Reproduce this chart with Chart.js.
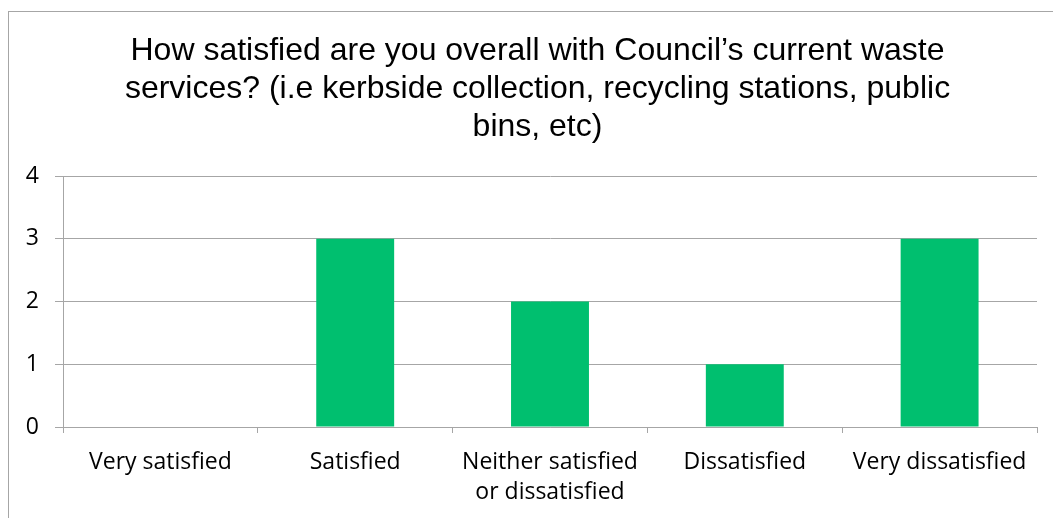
<!DOCTYPE html>
<html>
<head>
<meta charset="utf-8">
<script src="https://cdn.jsdelivr.net/npm/chart.js@4/dist/chart.umd.min.js"></script>
<style>
  html, body { margin: 0; padding: 0; background: #fff; overflow: hidden; }
  #frame {
    position: absolute; left: 8px; top: 11px; width: 2000px; height: 2000px;
    border-left: 1px solid #a6a6a6; border-top: 1px solid #a6a6a6;
  }
  #wrap { position: absolute; left: 0; top: 0; width: 1053px; height: 518px; }
</style>
</head>
<body>
<div id="frame"></div>
<div id="wrap"><canvas id="chart" width="1053" height="518"></canvas></div>
<script>
// Survey question and answers
const titleLines = [
  'How satisfied are you overall with Council\u2019s current waste',
  'services? (i.e kerbside collection, recycling stations, public',
  'bins, etc)'
];
const categories = [
  'Very satisfied',
  'Satisfied',
  ['Neither satisfied', 'or dissatisfied'],
  'Dissatisfied',
  'Very dissatisfied'
];
const responses = [0, 3, 2, 1, 3];
const yMin = 0;
const yMax = 4;
const yStep = 1;

const gridGray = '#a6a6a6';
const labelFont = { family: '"Open Sans", sans-serif', size: 23, lineHeight: 30 / 23 };

// The frame the chart sits in is wider than the window, so the title is
// centred on that frame rather than on the visible canvas.
const titleShift = {
  id: 'titleShift',
  afterLayout(chart) {
    const t = chart.titleBlock;
    if (t) { t.left += 9; t.right += 9; }
  }
};

new Chart(document.getElementById('chart'), {
  type: 'bar',
  data: {
    labels: categories,
    datasets: [{
      data: responses,
      backgroundColor: '#00bf6f',
      borderWidth: 0,
      barPercentage: 0.4,
      categoryPercentage: 1.0
    }]
  },
  plugins: [titleShift],
  options: {
    responsive: false,
    animation: false,
    events: [],
    layout: { padding: { left: 20, right: 16, top: 0, bottom: 0 } },
    plugins: {
      legend: { display: false },
      tooltip: { enabled: false },
      title: {
        display: true,
        text: titleLines,
        color: '#000',
        font: { family: '"Liberation Sans", Arial, sans-serif', size: 32, weight: 'normal', lineHeight: 38 / 32 },
        padding: { top: 32, bottom: 30 }
      }
    },
    scales: {
      x: {
        grid: {
          display: true,
          drawOnChartArea: false,
          drawTicks: true,
          tickLength: 6,
          color: gridGray,
          offset: true
        },
        border: { display: true, color: gridGray },
        ticks: {
          color: '#000',
          font: labelFont,
          padding: 14,
          maxRotation: 0,
          autoSkip: false
        },
        afterFit(scale) { scale.height = 91; }
      },
      y: {
        min: yMin,
        max: yMax,
        grid: {
          color: gridGray,
          drawTicks: true,
          tickLength: 8
        },
        border: { display: true, color: gridGray },
        ticks: {
          stepSize: yStep,
          color: '#000',
          font: labelFont,
          padding: 16
        },
        afterFit(scale) { scale.width = 43; }
      }
    }
  }
});
</script>
</body>
</html>
